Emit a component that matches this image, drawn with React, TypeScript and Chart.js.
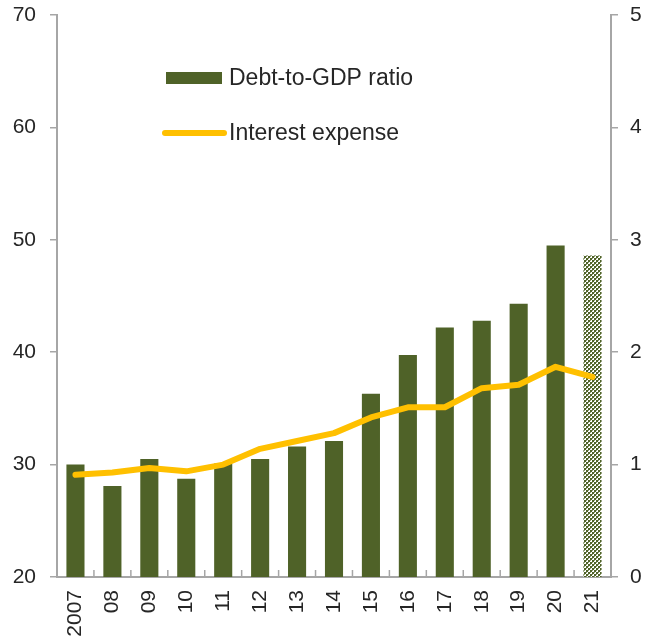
import { useEffect, useRef } from 'react';
import { Chart, registerables } from 'chart.js';

Chart.register(...registerables);

const categories = ['2007', '08', '09', '10', '11', '12', '13', '14', '15', '16', '17', '18', '19', '20', '21'];
const debtToGdp = [30.0, 28.1, 30.5, 28.75, 30.1, 30.5, 31.6, 32.1, 36.3, 39.75, 42.2, 42.8, 44.3, 49.5, 48.6];
const interestExpense = [0.91, 0.93, 0.97, 0.94, 1.0, 1.14, 1.21, 1.28, 1.42, 1.51, 1.51, 1.68, 1.71, 1.87, 1.78];
const forecastIndex = 14;

const GREEN = '#4F6228';
const GOLD = '#FFC000';
const AXIS = '#A6A6A6';
const TEXT = '#262626';
const FONT = "'Liberation Sans', Arial, sans-serif";
const TICK_SIZE = 21;
const LEGEND_SIZE = 23;

function makePattern(): CanvasPattern | string {
  const c = document.createElement('canvas');
  c.width = 4;
  c.height = 4;
  const g = c.getContext('2d');
  if (!g) return GREEN;
  g.fillStyle = '#ffffff';
  g.fillRect(0, 0, 4, 4);
  g.fillStyle = GREEN;
  g.fillRect(0, 0, 2, 2);
  g.fillRect(2, 2, 2, 2);
  g.fillStyle = '#8E9C6C';
  g.fillRect(2, 0, 1, 1);
  g.fillRect(0, 2, 1, 1);
  const p = g.createPattern(c, 'repeat');
  return p || GREEN;
}

const noPad = (s: any) => {
  s.paddingTop = 0;
  s.paddingBottom = 0;
  s.paddingLeft = 0;
  s.paddingRight = 0;
};

export default function App() {
  const ref = useRef<HTMLCanvasElement>(null);

  useEffect(() => {
    if (!ref.current) return;
    const pattern = makePattern();

    const xTicksPlugin = {
      id: 'xInnerTicks',
      afterDraw(chart: any) {
        const ctx = chart.ctx;
        const xs = chart.scales.x;
        const y = chart.chartArea.bottom;
        ctx.save();
        ctx.strokeStyle = AXIS;
        ctx.lineWidth = 1.5;
        for (let i = 1; i < categories.length; i++) {
          const px = (xs.getPixelForValue(i - 1) + xs.getPixelForValue(i)) / 2;
          ctx.beginPath();
          ctx.moveTo(px, y);
          ctx.lineTo(px, y - 7);
          ctx.stroke();
        }
        ctx.restore();
      },
    };

    const legendPlugin = {
      id: 'innerLegend',
      afterDraw(chart: any) {
        const ctx = chart.ctx;
        const a = chart.chartArea;
        const ds = chart.data.datasets;
        ctx.save();
        ctx.font = `${LEGEND_SIZE}px ${FONT}`;
        ctx.textBaseline = 'middle';
        ctx.textAlign = 'left';
        const x0 = a.left + 109;
        const y1 = a.top + 63;
        ctx.fillStyle = GREEN;
        ctx.fillRect(x0, y1 - 6, 56, 12);
        ctx.fillStyle = TEXT;
        ctx.fillText(ds[0].label, x0 + 63, y1 + 1);
        const y2 = a.top + 118;
        ctx.strokeStyle = GOLD;
        ctx.lineWidth = 6;
        ctx.lineCap = 'round';
        ctx.beginPath();
        ctx.moveTo(x0 - 1, y2);
        ctx.lineTo(x0 + 58, y2);
        ctx.stroke();
        ctx.fillStyle = TEXT;
        ctx.fillText(ds[1].label, x0 + 63, y2 + 1);
        ctx.restore();
      },
    };

    const chart = new Chart(ref.current, {
      type: 'bar',
      data: {
        labels: categories,
        datasets: [
          {
            type: 'bar',
            label: 'Debt-to-GDP ratio',
            data: debtToGdp,
            yAxisID: 'y',
            backgroundColor: (c: any) => (c.dataIndex === forecastIndex ? pattern : GREEN),
            borderWidth: 0,
            barPercentage: 0.49,
            categoryPercentage: 1,
            order: 2,
          },
          {
            type: 'line',
            label: 'Interest expense',
            data: interestExpense,
            yAxisID: 'y1',
            borderColor: GOLD,
            backgroundColor: GOLD,
            borderWidth: 6,
            pointRadius: 0,
            tension: 0,
            borderJoinStyle: 'round',
            borderCapStyle: 'round',
            order: 1,
          },
        ] as any,
      },
      options: {
        responsive: false,
        animation: false,
        layout: { padding: { top: 15, left: 0, right: 0, bottom: 0 } },
        plugins: {
          legend: { display: false },
          tooltip: { enabled: false },
        },
        scales: {
          x: {
            offset: true,
            grid: { display: false, drawTicks: false },
            border: { display: true, color: AXIS, width: 2 },
            ticks: {
              minRotation: 90,
              maxRotation: 90,
              padding: 13,
              color: TEXT,
              font: { family: FONT, size: TICK_SIZE },
            },
            afterFit: (s: any) => {
              s.height = 63;
              noPad(s);
            },
          },
          y: {
            position: 'left',
            min: 20,
            max: 70,
            ticks: {
              stepSize: 10,
              padding: 14,
              color: TEXT,
              font: { family: FONT, size: TICK_SIZE },
            },
            grid: { drawOnChartArea: false, drawTicks: true, tickLength: 7, color: AXIS, lineWidth: 1.5 },
            border: { display: true, color: AXIS, width: 2 },
            afterFit: (s: any) => {
              s.width = 57;
              noPad(s);
            },
          },
          y1: {
            position: 'right',
            min: 0,
            max: 5,
            ticks: {
              stepSize: 1,
              padding: 12,
              color: TEXT,
              font: { family: FONT, size: TICK_SIZE },
            },
            grid: { drawOnChartArea: false, drawTicks: true, tickLength: 7, color: AXIS, lineWidth: 1.5 },
            border: { display: true, color: AXIS, width: 2 },
            afterFit: (s: any) => {
              s.width = 35;
              noPad(s);
            },
          },
        },
      } as any,
      plugins: [xTicksPlugin, legendPlugin],
    });

    return () => chart.destroy();
  }, []);

  return (
    <div style={{ position: 'absolute', left: 0, top: 0, width: 646, height: 640, background: '#fff' }}>
      <canvas ref={ref} width={646} height={640} style={{ display: 'block', width: 646, height: 640 }} />
    </div>
  );
}
